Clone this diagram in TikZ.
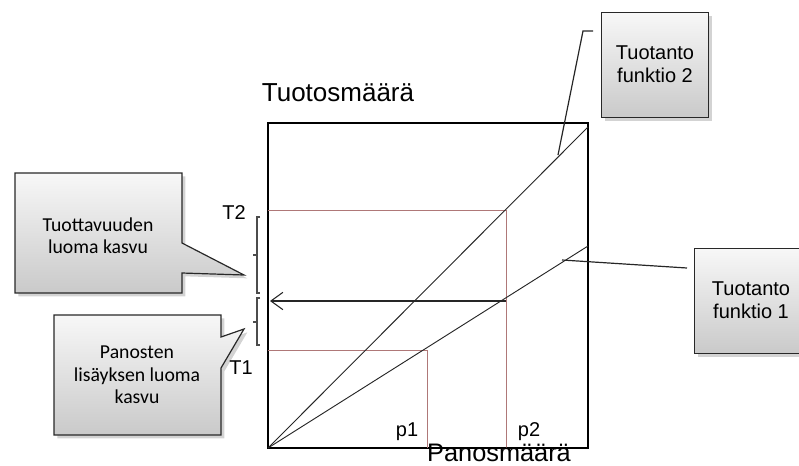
\documentclass[tikz,border=0pt]{standalone}
\usepackage{fontspec}
\setmainfont{Liberation Sans}
\newfontfamily\calfont{Carlito}
\usetikzlibrary{arrows.meta,shadows}
\definecolor{redline}{RGB}{175,120,120}
\definecolor{boxline}{RGB}{40,40,40}
\tikzset{
  cbox/.style={draw=boxline, line width=0.9pt, top color=gray!6, bottom color=gray!42,
    drop shadow={opacity=0.35, shadow xshift=2.5pt, shadow yshift=-2.5pt}},
  axis/.style={draw=black, line width=0.9pt},
  func/.style={draw=black!85, line width=0.7pt},
  guide/.style={draw=redline, line width=0.6pt},
  brk/.style={draw=black!70, line width=0.8pt},
  lbl/.style={inner sep=0pt, font=\fontsize{15}{17}\selectfont},
  big/.style={inner sep=0pt, font=\fontsize{19.5}{22}\selectfont},
  btxt/.style={inner sep=0pt, align=center, font=\fontsize{15}{17}\selectfont},
  ctxt/.style={inner sep=0pt, align=center, font=\calfont\fontsize{14.8}{16.8}\selectfont},
}
\begin{document}
\begin{tikzpicture}[x=0.75pt,y=-0.75pt]
\useasboundingbox (0,0) rectangle (799,465);
\begin{scope}
\clip (0,0) rectangle (799,465);
% coordinates
\coordinate (O) at (268,448);
\coordinate (TL) at (268,123);
\coordinate (BR) at (588,448);
\coordinate (F2) at (588,127);
\coordinate (F1) at (588,246);
\coordinate (A2) at (506,210);
\coordinate (A2y) at (268,210);
\coordinate (A2x) at (506,448);
\coordinate (A1) at (427,350);
\coordinate (A1y) at (268,350);
\coordinate (A1x) at (427,448);
\coordinate (M) at (506,301);
\coordinate (Mt) at (270,301);

% callout boxes (left)
\path[cbox] (15,173) -- (182,173) -- (182,243) -- (244,275) -- (182,273) -- (182,293) -- (15,293) -- cycle;
\path[cbox] (54,315) -- (221,315) -- (221,337) -- (244,329) -- (221,368) -- (221,435) -- (54,435) -- cycle;
% callout boxes (right)
\node[cbox, minimum width=107*0.75pt, minimum height=105*0.75pt, anchor=north west, inner sep=0pt] (B2) at (601,12) {};
\node[cbox, minimum width=116*0.75pt, minimum height=105*0.75pt, anchor=north west, inner sep=0pt] (B1) at (694,248) {};

% axes box
\draw[axis] (TL) rectangle (BR);
% guides
\draw[guide] (A2y) -- (A2) -- (A2x);
\draw[guide] (A1y) -- (A1) -- (A1x);
% functions
\draw[func] (O) -- (F2);
\draw[func] (O) -- (F1);
% arrow
\draw[func, line width=0.8pt, -{Straight Barb[length=9pt,width=13pt]}] (M) -- (Mt);
% braces
\draw[brk] (260,217) -- (257,217) -- (257,293) -- (260,293);
\draw[brk] (257,255) -- (253,255);
\draw[brk] (260,298) -- (257,298) -- (257,345) -- (260,345);
\draw[brk] (257,322) -- (253,322);
% callout lines
\coordinate (P2) at (558,155);
\coordinate (P2a) at (583,31);
\coordinate (P2b) at (593,31);
\draw[func, line width=0.9pt] (P2) -- (P2a) -- (P2b);
\coordinate (P1) at (562,260);
\coordinate (P1a) at (687,268);
\draw[func, line width=0.9pt] (P1) -- (P1a);

% texts
\node[big] (ylab) at (338,93) {Tuotosmäärä};
\node[big, font=\fontsize{19}{22}\selectfont, anchor=base] (xlab) at (499,461) {Panosmäärä};
\node[lbl, anchor=base] (t2) at (234,219) {T2};
\node[lbl, anchor=base] (t1) at (241,374) {T1};
\node[lbl, anchor=base] (p1) at (407,436) {p1};
\node[lbl, anchor=base] (p2) at (529,436) {p2};
\node[btxt] (tf2) at (655,64) {Tuotanto\\funktio 2};
\node[btxt] (tf1) at (751,300) {Tuotanto\\funktio 1};
\node[ctxt] (c1) at (98,236) {Tuottavuuden\\luoma kasvu};
\node[ctxt] (c2) at (137,375) {Panosten\\lisäyksen luoma\\kasvu};
\end{scope}
\end{tikzpicture}
\end{document}
